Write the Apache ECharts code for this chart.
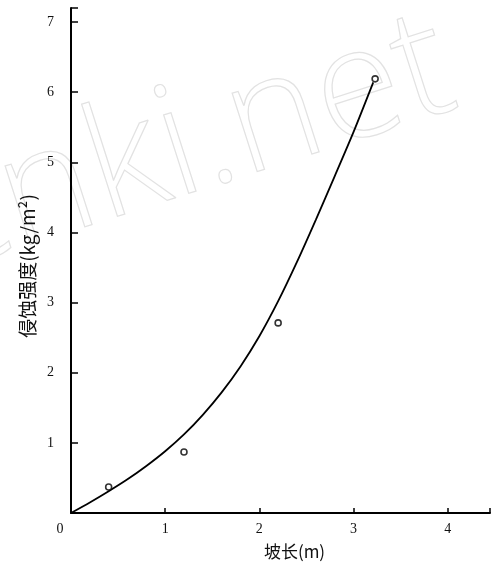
<!DOCTYPE html>
<html><head><meta charset="utf-8">
<script src="https://cdn.jsdelivr.net/npm/echarts@6/dist/echarts.min.js"></script>
<style>html,body{margin:0;padding:0;background:#fff}#c{width:493px;height:566px}</style>
</head><body><div id="c"></div>
<script>
const slopeLength = [0.4, 1.2, 2.2, 3.23];
const erosion = [0.37, 0.87, 2.71, 6.19];
const curveX = [0, 0.2, 0.4, 0.6, 0.8, 1.0, 1.2, 1.4, 1.6, 1.8, 2.0, 2.2, 2.4, 2.6, 2.8, 3.0, 3.21];
const curveY = [0, 0.15, 0.31, 0.48, 0.67, 0.88, 1.12, 1.40, 1.72, 2.09, 2.52, 3.02, 3.58, 4.18, 4.80, 5.43, 6.14];
const xTicks = [0, 1, 2, 3, 4];
const yTicks = [1, 2, 3, 4, 5, 6, 7];

const chart = echarts.init(document.getElementById('c'));
const serif = '"Liberation Serif", "DejaVu Serif", serif';
chart.setOption({
  animation: false,
  backgroundColor: '#fff',
  grid: {left: 71, right: 0, top: 8, bottom: 53},
  graphic: [{
    type: 'text', z: -1, x: -90, y: 155,
    rotation: 0.31,
    style: {
      text: 'cnki.net', font: '300 155px "Open Sans", sans-serif',
      textBaseline: 'alphabetic',
      fill: 'rgba(0,0,0,0)', stroke: '#e2e2e2', lineWidth: 1.2
    }
  }, {
    type: 'text', x: 28, y: 266,
    rotation: Math.PI / 2,
    style: {text: '侵蚀强度(kg/m²)', font: '19px "Noto Sans CJK SC"', fill: '#111',
      textAlign: 'center', textVerticalAlign: 'middle'}
  }],
  xAxis: {
    type: 'value', min: 0, max: 4.45, interval: 1,
    name: '坡长(m)', nameLocation: 'middle', nameGap: 30,
    nameTextStyle: {fontFamily: 'Noto Sans CJK SC', fontSize: 17, color: '#111', padding: [0, 0, 0, 28]},
    axisLine: {lineStyle: {color: '#000', width: 2}},
    axisTick: {inside: true, length: 5, lineStyle: {color: '#000', width: 1.5}},
    axisLabel: {fontFamily: serif, fontSize: 14, color: '#111', margin: 9,
      formatter: v => v === 0 ? '{o|0}' : (xTicks.includes(v) ? String(v) : ''),
      rich: {o: {fontFamily: serif, fontSize: 14, color: '#111', padding: [0, 22, 0, 0]}}},
    splitLine: {show: false}
  },
  yAxis: {
    type: 'value', min: 0, max: 7.2, interval: 1,
    axisLine: {lineStyle: {color: '#000', width: 2}},
    axisTick: {inside: true, length: 7, lineStyle: {color: '#000', width: 1.5}},
    axisLabel: {fontFamily: serif, fontSize: 14, color: '#111', margin: 17, showMinLabel: false,
      formatter: v => yTicks.includes(v) ? String(v) : ''},
    splitLine: {show: false}
  },
  series: [{
    type: 'line', data: curveX.map((x, i) => [x, curveY[i]]), smooth: 0.25,
    showSymbol: false, lineStyle: {color: '#000', width: 1.8}
  }, {
    type: 'scatter', data: slopeLength.map((x, i) => [x, erosion[i]]),
    symbol: 'circle', symbolSize: 6,
    itemStyle: {color: '#fff', borderColor: '#000', borderWidth: 1.6}, z: 3
  }]
});
</script></body></html>
